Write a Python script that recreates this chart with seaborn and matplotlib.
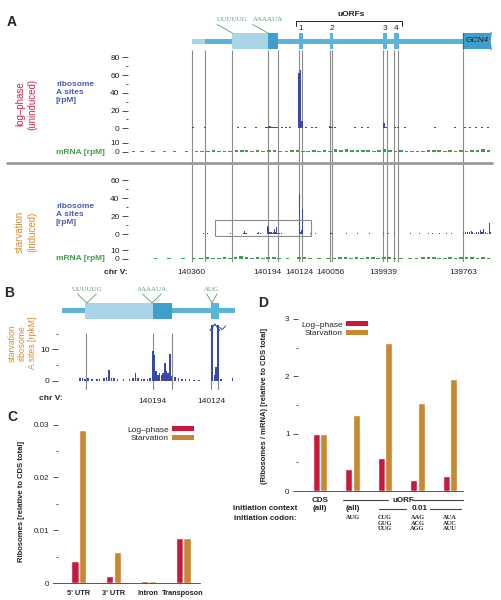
import numpy as np
import pandas as pd
import matplotlib
matplotlib.use("Agg")
import matplotlib.pyplot as plt
import matplotlib.transforms as mtransforms
from matplotlib.patches import Rectangle, Polygon, Patch
from matplotlib.lines import Line2D
import seaborn as sns

# ------------------------------------------------------------------ data
# Panel A / B : chr V genomic coordinates
CHR_TICKS = [140360, 140194, 140124, 140056, 139939, 139763]
B_TICKS = [140194, 140124]
FEATURE_MARKS = [140359, 140330, 140271, 140193, 140170, 140125, 140117,
                 140056, 140051, 139939, 139930, 139915, 139906, 139763]
B_MARKS = [140271, 140193, 140170, 140125, 140117]
UORF_LABELS = ['1', '2', '3', '4']
UORF_START = [140125, 140056, 139940, 139916]
UORF_END = [140116, 140050, 139931, 139905]
LEADER = (140360, 140331)
TRANSCRIPT = (140331, 139764)
UTR_LIGHT = (140272, 140193)
UTR_DARK = (140193, 140171)
CDS_GCN4 = (139764, 139700)
MOTIF_A = ['UUUUUG', 'AAAAUA']
MOTIF_A_POS = [140271, 140193]
MOTIF_B = ['UUUUUG', 'AAAAUA', 'AUG']
MOTIF_B_POS = [140270, 140194, 140124]

LOG_RIBO_POS = [140358, 140331, 140259, 140243, 140219, 140197, 140193, 140189, 140185, 140181,
                140177, 140173, 140162, 140153, 140144, 140125, 140121, 140117, 140109, 140096,
                140087, 140056, 140052, 140045, 140001, 139986, 139973, 139938, 139933, 139913,
                139907, 139891, 139825, 139781, 139759, 139748, 139735, 139722, 139709]
LOG_RIBO_VAL = [1, 1, 1, 1, 1, 1, 2, 3, 2, 2,
                1, 1, 1, 1, 2, 62, 66, 8, 1, 1,
                2, 3, 2, 1, 1, 1, 1, 6, 2, 1,
                1, 1, 1, 1, 1, 1, 1, 1, 1]

LOG_MRNA_POS = [140488, 140470, 140445, 140420, 140398, 140372, 140350,
                140338, 140325, 140312, 140300, 140288, 140276, 140262, 140250, 140240, 140228,
                140216, 140204, 140190, 140178, 140166, 140152, 140140, 140128, 140116, 140104,
                140092, 140080, 140068, 140056, 140044, 140032, 140020, 140008, 139996, 139984,
                139972, 139960, 139948, 139936, 139924, 139912, 139900, 139888, 139876, 139864,
                139852, 139840, 139828, 139816, 139804, 139792, 139780, 139768, 139756, 139744,
                139732, 139720, 139708]
LOG_MRNA_VAL = [1, 1, 1, 1, 1, 1, 1,
                1, 1, 1.5, 1, 1, 1, 1.5, 2, 1.5, 1,
                1.5, 1, 1.5, 2, 1, 1, 1.5, 2, 1, 1,
                1.5, 1, 1.5, 1, 2.5, 2, 3, 2, 1.5, 2,
                1.5, 1, 1.5, 3.5, 1.5, 1, 1.5, 1, 1, 1,
                1, 1.5, 2, 1.5, 1, 1.5, 1, 1.5, 1, 2,
                1.5, 2.5, 1.5]

STARV_RIBO_POS = [140334, 140326,
                  140278, 140275, 140272, 140269, 140264, 140258, 140255, 140250, 140247, 140244,
                  140241, 140238, 140234, 140227, 140220, 140216, 140213, 140210, 140206, 140203,
                  140199, 140196,
                  140193, 140191, 140189, 140187, 140185, 140183, 140181, 140179, 140177, 140175,
                  140173, 140171, 140167, 140163, 140159, 140155, 140150, 140145, 140139,
                  140124, 140121, 140119, 140117, 140113,
                  140100, 140088, 140056, 140052, 140020, 139995, 139970, 139938, 139928, 139914,
                  139880, 139860, 139840, 139830, 139815, 139800, 139790,
                  139762, 139758, 139754, 139750, 139746, 139742, 139738, 139734, 139730, 139726,
                  139722, 139718, 139714, 139710, 139706, 139703]
STARV_RIBO_VAL = [1, 1,
                  0.8, 1.0, 0.6, 0.8, 0.5, 0.5, 0.6, 0.8, 1.2, 3.5,
                  1.0, 0.8, 0.5, 0.5, 0.6, 1.0, 2.5, 1.0, 0.6, 0.5,
                  0.7, 0.8,
                  9.5, 8.2, 3.0, 2.0, 2.5, 1.8, 2.5, 5.5, 3.0, 2.5,
                  8.5, 1.5, 1.2, 1.0, 0.6, 0.5, 0.5, 0.4, 0.4,
                  45, 2.0, 4.5, 28, 0.5,
                  1, 1, 1, 1, 1, 1, 1, 1.5, 1, 1,
                  1, 1, 1, 1, 1, 1, 1,
                  1.5, 2, 3, 2, 4, 2, 1.5, 2, 3, 5,
                  2.5, 6, 2, 1.5, 12, 3]

STARV_MRNA_POS = [140440, 140410, 140380, 140356, 140340,
                  140326, 140314, 140300, 140288, 140276, 140264, 140252, 140240, 140228, 140216,
                  140204, 140192, 140180, 140168, 140150, 140124, 140112, 140100, 140080, 140060,
                  140046, 140034, 140022, 140010, 139998, 139986, 139974, 139962, 139950, 139938,
                  139926, 139914, 139900, 139880, 139866, 139852, 139840, 139828, 139816, 139804,
                  139792, 139780, 139768, 139756, 139744, 139732, 139720, 139708]
STARV_MRNA_VAL = [1, 1, 1, 1, 1,
                  1.5, 1, 1, 1.5, 1, 2, 2.5, 1.5, 1, 1.5,
                  1, 2, 1.5, 1, 1, 2, 1.5, 1, 1, 1,
                  1, 1.5, 1.5, 1, 1.5, 1, 1.5, 1.5, 1, 2,
                  1.5, 1, 1, 1, 1, 1.5, 2, 1.5, 1, 1,
                  1.5, 1, 1.5, 2, 1.5, 1, 1.5, 1]

# Panel C
CONDITIONS = ['Log\u2013phase', 'Starvation']
C_REGIONS = ["5' UTR", "3' UTR", "Intron", "Transposon"]
C_LOG = [0.0042, 0.0013, 0.0003, 0.0085]
C_STARV = [0.0290, 0.0059, 0.0004, 0.0085]
C_YTICKS = [0, 0.01, 0.02, 0.03]
C_YLABELS = ['0', '0.01', '0.02', '0.03']

# Panel D
D_GROUPS = ['CDS', 'AUG', 'CUG', 'AAG', 'AUA']
D_LOG = [1.0, 0.38, 0.57, 0.20, 0.27]
D_STARV = [1.0, 1.33, 2.58, 1.53, 1.96]
D_CONTEXT = ['(all)', '(all)']
D_CODONS = ['', 'AUG', 'CUG\nGUG\nUUG', 'AAG\nACG\nAGG', 'AUA\nAUC\nAUU']

# ------------------------------------------------------------------ style
sns.set_theme(style="white")
plt.rcParams['font.family'] = ['Liberation Sans', 'DejaVu Sans']
plt.rcParams['axes.linewidth'] = 0.6

RED = "#c8193c"
ORANGE = "#c98731"
TRACK_BLUE = "#3a48a6"
GREEN = "#3c9e4c"
LBL_BLUE = "#4d5bb0"
LBL_RED = "#cc2448"
LBL_ORANGE = "#d68b2c"
LBL_GREEN = "#3f9e4c"
GENE = "#5ab3d8"
GENE_LIGHT = "#aad5e8"
GENE_DARK = "#3f9ecb"
VLINE = "#8a8a8a"
SEQ = "#5d9c6c"
TXT = "#222222"

W, H = 502, 600
fig = plt.figure(figsize=(W / 100, H / 100), dpi=100)


def rect(l, t, w, h):
    return [l / W, 1 - (t + h) / H, w / W, h / H]


def fx(x):
    return x / W


def fy(y):
    return 1 - y / H


def fig_line(xs, ys, **kw):
    fig.add_artist(Line2D([fx(x) for x in xs], [fy(y) for y in ys],
                          transform=fig.transFigure, **kw))


def clean(ax):
    for s in ax.spines.values():
        s.set_visible(False)
    ax.patch.set_alpha(0)
    ax.grid(False)


A_XLIM = (140496, 139700)
B_XLIM = (140299, 140097)

# ------------------------------------------------------------------ panel A
axv = fig.add_axes(rect(130, 50, 362, 212))
axv.set_xlim(A_XLIM)
axv.set_ylim(0, 1)
axv.axis('off')
axv.vlines(FEATURE_MARKS, 0, 1, color=VLINE, lw=0.8)


def draw_gene(ax, line_top, line_h, box_top, box_h, cds=True):
    ax.add_patch(Rectangle((LEADER[1], line_top), LEADER[0] - LEADER[1], line_h,
                           color=GENE_LIGHT, lw=0))
    ax.add_patch(Rectangle((TRANSCRIPT[1], line_top), TRANSCRIPT[0] - TRANSCRIPT[1], line_h,
                           color=GENE, lw=0))
    ax.add_patch(Rectangle((UTR_LIGHT[1], box_top), UTR_LIGHT[0] - UTR_LIGHT[1], box_h,
                           color=GENE_LIGHT, lw=0))
    ax.add_patch(Rectangle((UTR_DARK[1], box_top), UTR_DARK[0] - UTR_DARK[1], box_h,
                           color=GENE_DARK, lw=0))
    for s, e in zip(UORF_START, UORF_END):
        ax.add_patch(Rectangle((e, box_top), s - e, box_h, color=GENE, lw=0))
    if cds:
        s, e = CDS_GCN4
        pts = [(s, box_top), (e + 5, box_top), (e, box_top - 1.5), (e + 3, box_top + box_h / 2),
               (e, box_top + box_h + 1.5), (e + 5, box_top + box_h), (s, box_top + box_h)]
        ax.add_patch(Polygon(pts, closed=True, color=GENE_DARK, lw=0))
        ax.plot([s, s], [box_top, box_top + box_h], color="#2d6f8f", lw=0.8)


axg = fig.add_axes(rect(130, 10, 362, 45))
axg.set_xlim(A_XLIM)
axg.set_ylim(55, 10)
axg.axis('off')
draw_gene(axg, 38.5, 5, 33, 16)
axg.text(139732, 41, 'GCN4', style='italic', fontsize=6, ha='center', va='center', color=TXT)

trA = mtransforms.blended_transform_factory(axg.transData, fig.transFigure)
for lab, pos in zip(MOTIF_A, MOTIF_A_POS):
    fig.text(pos, fy(19.5), lab, transform=trA, fontsize=5, family='Liberation Serif',
             color=SEQ, ha='center', va='center')
    axg.plot([pos + 33, pos], [24.5, 33], color=SEQ, lw=0.6, clip_on=False)

fig_line([296, 296, 402, 402], [25.5, 20.5, 20.5, 25.5], color=TXT, lw=0.7)
fig.text(fx(351), fy(15), 'uORFs', fontsize=6, fontweight='bold', ha='center', va='center', color=TXT)
for lab, s, e in zip(UORF_LABELS, UORF_START, UORF_END):
    axg.text((s + e) / 2, 28, lab, fontsize=6, ha='center', va='center', color=TXT)


def track(top, height, ylim, major, minor):
    ax = fig.add_axes(rect(130, top, 362, height))
    ax.set_xlim(A_XLIM)
    ax.set_ylim(ylim)
    clean(ax)
    ax.spines['left'].set_position(('outward', 1.5))
    ax.set_yticks(major)
    ax.set_yticklabels([str(v) for v in major])
    ax.set_yticks(minor, minor=True)
    ax.tick_params(axis='y', which='major', left=True, length=4, width=0.6, pad=2,
                   labelsize=6, color='#333333', labelcolor=TXT)
    ax.tick_params(axis='y', which='minor', left=True, length=1.6, width=0.6, color='#333333')
    ax.set_xticks([])
    return ax


ax1 = track(55, 76, (-3.0, 82.6), [0, 20, 40, 60, 80], [10, 30, 50, 70])
ax1.bar(LOG_RIBO_POS, LOG_RIBO_VAL, width=4, color=TRACK_BLUE, lw=0)
ax2 = track(138, 17, (-3.7, 15.2), [0, 10], [])
ax2.bar(LOG_MRNA_POS, LOG_MRNA_VAL, width=8, color=GREEN, lw=0)
ax3 = track(172, 65, (-3.0, 69.2), [0, 20, 40, 60], [10, 30, 50])
ax3.bar(STARV_RIBO_POS, STARV_RIBO_VAL, width=2.4, color=TRACK_BLUE, lw=0)
ax3.add_patch(Rectangle((B_XLIM[1], -1.9), B_XLIM[0] - B_XLIM[1] + 10, 17.6,
                        fill=False, edgecolor='#8a8a8a', lw=0.8))
ax4 = track(244, 17, (-2.9, 17.1), [0, 10], [])
ax4.bar(STARV_MRNA_POS, STARV_MRNA_VAL, width=8, color=GREEN, lw=0)
ax4.set_xticks(CHR_TICKS)
ax4.set_xticklabels([str(t) for t in CHR_TICKS])
ax4.tick_params(axis='x', length=0, pad=6, labelsize=6, labelcolor=TXT)
fig.text(fx(128), fy(272), 'chr V:', fontsize=6, fontweight='bold', ha='right', va='center', color=TXT)

fig_line([7, 492], [163, 163], color='#9a9a9a', lw=2)

fig.text(fx(26), fy(104), 'log\u2013phase\n(uninduced)', rotation=90, fontsize=7,
         color=LBL_RED, ha='center', va='center', multialignment='center', linespacing=1.25)
fig.text(fx(26), fy(232), 'starvation\n(induced)', rotation=90, fontsize=7,
         color=LBL_ORANGE, ha='center', va='center', multialignment='center', linespacing=1.25)
for yc in (92.5, 214):
    fig.text(fx(56), fy(yc), 'ribosome\nA sites\n[rpM]', fontsize=6, fontweight='bold',
             color=LBL_BLUE, ha='left', va='center', linespacing=1.2)
for yc in (152, 259):
    fig.text(fx(56), fy(yc), 'mRNA [rpM]', fontsize=6, fontweight='bold',
             color=LBL_GREEN, ha='left', va='center')

fig.text(fx(12), fy(22), 'A', fontsize=10, fontweight='bold', ha='center', va='center')

# ------------------------------------------------------------------ panel B
axbv = fig.add_axes(rect(62, 333, 173, 57))
axbv.set_xlim(B_XLIM)
axbv.set_ylim(0, 1)
axbv.axis('off')
axbv.vlines(B_MARKS, 0, 1, color=VLINE, lw=0.8)

axbg = fig.add_axes(rect(62, 286, 173, 36))
axbg.set_xlim(B_XLIM)
axbg.set_ylim(322, 286)
axbg.axis('off')
draw_gene(axbg, 308, 5, 303, 16, cds=False)
trB = mtransforms.blended_transform_factory(axbg.transData, fig.transFigure)
for lab, pos in zip(MOTIF_B, MOTIF_B_POS):
    fig.text(pos, fy(289.5), lab, transform=trB, fontsize=5, family='Liberation Serif',
             color=SEQ, ha='center', va='center')
    half = 11 if len(lab) > 3 else 6
    axbg.plot([pos + half, pos, pos - half], [294, 303, 294], color=SEQ, lw=0.6, clip_on=False)

axb = fig.add_axes(rect(62, 325, 173, 59))
axb.set_xlim(B_XLIM)
axb.set_ylim(-1, 17.7)
clean(axb)
axb.spines['left'].set_position(('outward', 3))
axb.bar(STARV_RIBO_POS, STARV_RIBO_VAL, width=1.9, color=TRACK_BLUE, lw=0)
axb.set_yticks([0, 10])
axb.set_yticklabels(['0', '10'])
axb.set_yticks([5, 15], minor=True)
axb.tick_params(axis='y', which='major', left=True, length=4, width=0.6, pad=2,
                labelsize=6, color='#333333', labelcolor=TXT)
axb.tick_params(axis='y', which='minor', left=True, length=1.6, width=0.6, color='#333333')
axb.set_xticks(B_TICKS)
axb.set_xticklabels([str(t) for t in B_TICKS])
axb.tick_params(axis='x', bottom=False, length=0, pad=10, labelsize=6, labelcolor=TXT)
axb.plot([140126, 140120.5, 140115], [16.0, 18.0, 16.0], color=TRACK_BLUE, lw=0.9, clip_on=False)
axb.plot([140115, 140112, 140108], [17.0, 16.2, 17.4], color=TRACK_BLUE, lw=0.7, clip_on=False)
fig.text(fx(63), fy(398), 'chr V:', fontsize=6, fontweight='bold', ha='right', va='center', color=TXT)
fig.text(fx(22), fy(343), 'starvation\nribosome\nA sites [rpkM]', rotation=90, fontsize=6.2,
         color=LBL_ORANGE, ha='center', va='center', multialignment='center', linespacing=1.15)
fig.text(fx(9), fy(293), 'B', fontsize=10, fontweight='bold', ha='center', va='center')

# ------------------------------------------------------------------ panel C
dfC = pd.DataFrame({'region': C_REGIONS * 2,
                    'condition': [CONDITIONS[0]] * len(C_REGIONS) + [CONDITIONS[1]] * len(C_REGIONS),
                    'value': C_LOG + C_STARV})
axC = fig.add_axes(rect(58, 422, 142, 161))
sns.barplot(data=dfC, x='region', y='value', hue='condition', order=C_REGIONS,
            hue_order=CONDITIONS, palette=[RED, ORANGE], saturation=1, width=0.46, gap=0.12,
            errorbar=None, legend=False, ax=axC)
axC.set_xlim(-0.605, 3.49)
axC.set_ylim(0, 0.0305)
clean(axC)
axC.set_xlabel('')
axC.set_ylabel('')
axC.set_yticks(C_YTICKS)
axC.set_yticklabels(C_YLABELS)
axC.set_yticks([0.005, 0.015, 0.025], minor=True)
axC.tick_params(axis='y', which='major', left=True, length=3.6, width=0.6, pad=2.5,
                labelsize=5.8, color='#333333', labelcolor=TXT)
axC.tick_params(axis='y', which='minor', left=True, length=1.4, width=0.6, color='#333333')
axC.tick_params(axis='x', length=0, pad=5)
for lab in axC.get_xticklabels():
    lab.set_fontweight('bold')
    lab.set_fontsize(5.3)
    lab.set_color(TXT)
fig_line([53, 200], [583, 583], color='#555555', lw=0.7)
fig.text(fx(22), fy(501), 'Ribosomes [relative to CDS total]', rotation=90, fontsize=5.5,
         fontweight='bold', ha='center', va='center', color=TXT)
handles = [Patch(color=RED, lw=0), Patch(color=ORANGE, lw=0)]
axC.legend(handles, CONDITIONS, loc='upper right', bbox_to_anchor=(fx(194), fy(426)),
           bbox_transform=fig.transFigure, frameon=False, markerfirst=False,
           handlelength=2.6, handleheight=0.6, labelspacing=0.12, handletextpad=0.4,
           borderpad=0, borderaxespad=0, fontsize=6)
fig.text(fx(12), fy(417), 'C', fontsize=10, fontweight='bold', ha='center', va='center')

# ------------------------------------------------------------------ panel D
dfD = pd.DataFrame({'group': D_GROUPS * 2,
                    'condition': [CONDITIONS[0]] * len(D_GROUPS) + [CONDITIONS[1]] * len(D_GROUPS),
                    'value': D_LOG + D_STARV})
axD = fig.add_axes(rect(298, 316, 165, 175))
sns.barplot(data=dfD, x='group', y='value', hue='condition', order=D_GROUPS,
            hue_order=CONDITIONS, palette=[RED, ORANGE], saturation=1, width=0.46, gap=0.12,
            errorbar=None, legend=False, ax=axD)
axD.set_xlim(-0.677, 4.4)
axD.set_ylim(0, 3.05)
clean(axD)
axD.set_xlabel('')
axD.set_ylabel('')
axD.set_yticks([0, 1, 2, 3])
axD.set_yticklabels(['0', '1', '2', '3'])
axD.set_yticks([0.5, 1.5, 2.5], minor=True)
axD.tick_params(axis='y', which='major', left=True, length=3.6, width=0.6, pad=2.5,
                labelsize=5.8, color='#333333', labelcolor=TXT)
axD.tick_params(axis='y', which='minor', left=True, length=1.4, width=0.6, color='#333333')
axD.set_xticks([])
fig_line([294, 463], [491, 491], color='#555555', lw=0.7)
fig.text(fx(265), fy(406), '(Ribosomes / mRNA) [relative to CDS total]', rotation=90,
         fontsize=5.5, fontweight='bold', ha='center', va='center', color=TXT)
axD.legend(handles, CONDITIONS, loc='upper right', bbox_to_anchor=(fx(368), fy(321)),
           bbox_transform=fig.transFigure, frameon=False, markerfirst=False,
           handlelength=2.6, handleheight=0.6, labelspacing=0.12, handletextpad=0.4,
           borderpad=0, borderaxespad=0, fontsize=6)

trD = mtransforms.blended_transform_factory(axD.transData, fig.transFigure)
fig.text(0, fy(500), 'CDS', transform=trD, fontsize=5.8, fontweight='bold', ha='center',
         va='center', color=TXT)
fig.text(2.55, fy(500), 'uORF', transform=trD, fontsize=5.8, fontweight='bold',
         ha='center', va='center', color=TXT)
fig.add_artist(Line2D([0.71, 2.09], [fy(500), fy(500)], transform=trD, color='#444444', lw=0.8))
fig.add_artist(Line2D([2.83, 4.4], [fy(500), fy(500)], transform=trD, color='#444444', lw=0.8))
for i, lab in enumerate(D_CONTEXT):
    fig.text(i, fy(509), lab, transform=trD, fontsize=5.8, fontweight='bold', ha='center',
             va='center', color=TXT)
fig.text(3.08, fy(509), '0.01', transform=trD, fontsize=5.8, fontweight='bold', ha='center',
         va='center', color=TXT)
fig.add_artist(Line2D([1.82, 2.65], [fy(509), fy(509)], transform=trD, color='#444444', lw=0.8))
fig.add_artist(Line2D([3.38, 4.34], [fy(509), fy(509)], transform=trD, color='#444444', lw=0.8))
for i, lab in enumerate(D_CODONS):
    if lab:
        fig.text(i, fy(515), lab, transform=trD, fontsize=4.6, fontweight='bold',
                 family='Liberation Serif', ha='center', va='top', color=TXT, linespacing=1.15)
fig.text(fx(297), fy(509), 'initiation context', fontsize=5.8, fontweight='bold', ha='right',
         va='center', color=TXT)
fig.text(fx(297), fy(518), 'initiation codon:', fontsize=5.8, fontweight='bold', ha='right',
         va='center', color=TXT)
fig.text(fx(263), fy(303), 'D', fontsize=10, fontweight='bold', ha='center', va='center')

fig.savefig('out.png', dpi=100)
